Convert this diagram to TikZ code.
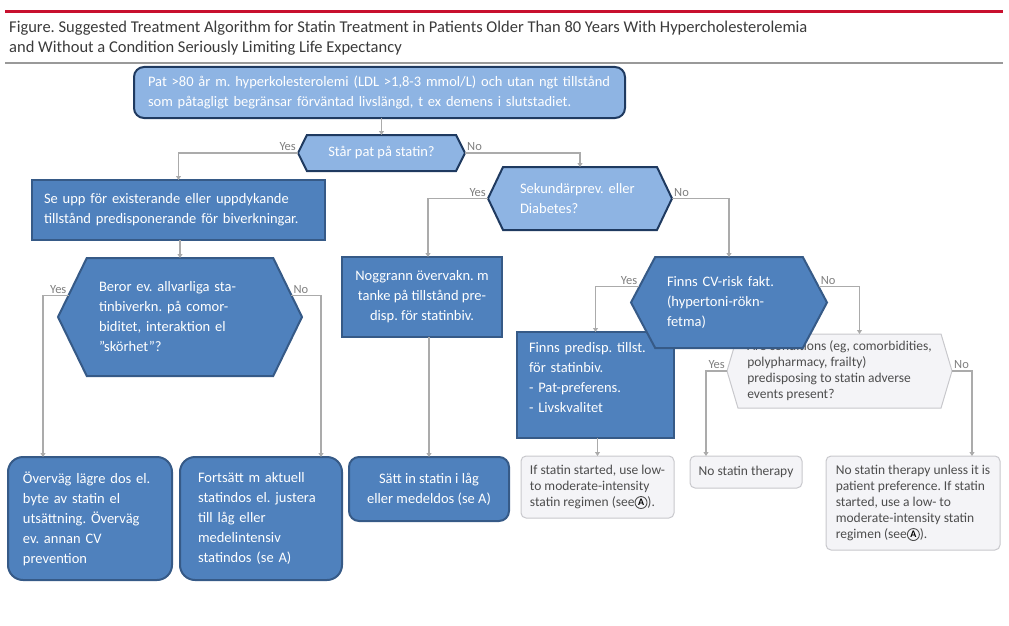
\documentclass[tikz,border=0pt]{standalone}
\usepackage{fontspec}
\setmainfont{Carlito}
\usetikzlibrary{shapes.symbols,arrows.meta}

\definecolor{lightfill}{HTML}{8EB4E3}
\definecolor{darkedge}{HTML}{1F3A60}
\definecolor{midfill}{HTML}{4F81BD}
\definecolor{midedge}{HTML}{365A87}
\definecolor{grayfill}{HTML}{F4F4F7}
\definecolor{grayedge}{HTML}{C8C8CC}
\definecolor{linegray}{HTML}{ABABAB}
\definecolor{labelgray}{HTML}{7F7F7F}
\definecolor{textgray}{HTML}{4D4D4D}
\definecolor{titlegray}{HTML}{3A3A3A}
\definecolor{jamared}{HTML}{C8102E}

% circled A of the JAMA boxes
\newcommand\circA{\tikz[baseline=-0.6ex]{\draw[textgray, line width=0.9pt] (0,0) circle (6pt);
  \pgftext{\fontsize{10}{10}\selectfont\bfseries A}}}

\tikzset{
  sv/.style={font=\fontsize{14.5}{20}\selectfont, text=white, inner sep=0pt, outer sep=0pt},
  lightbox/.style={sv, fill=lightfill, draw=darkedge, line width=2pt},
  midbox/.style={sv, fill=midfill, draw=midedge, line width=2pt},
  hexa/.style={signal, signal to=west and east, signal pointer angle=#1},
  graybox/.style={font=\fontsize{13.5}{16}\selectfont, text=textgray, fill=grayfill,
    draw=grayedge, line width=1pt, inner sep=0pt, outer sep=0pt, align=left},
  conn/.style={draw=linegray, line width=1.4pt, ->},
  lbl/.style={font=\fontsize{12.5}{14}\selectfont, text=labelgray, inner sep=1.5pt},
}

\begin{document}
\frenchspacing
\begin{tikzpicture}[x=1pt,y=-1pt,>={Triangle[width=5pt,length=4pt]}]
  \useasboundingbox (0,0) rectangle (1009,626);

  % heading
  \draw[jamared, line width=3pt] (5,12) -- (1003,12);
  \node[anchor=north west, inner sep=0pt, align=left, text=titlegray,
    font=\fontsize{16.5}{20}\selectfont] (title) at (9,21)
    {Figure. Suggested Treatment Algorithm for Statin Treatment in Patients Older Than 80 Years With Hypercholesterolemia\\
     and Without a Condition Seriously Limiting Life Expectancy};
  \draw[gray!80, line width=1.3pt] (5,63) -- (1003,63);

  % first questions
  \node[lightbox, rounded corners=10pt, align=left, text width=463pt, minimum width=491pt, minimum height=51pt] (top) at (379.5,92.5)
    {Pat >80 år m. hyperkolesterolemi (LDL >1,8-3 mmol/L) och utan ngt tillstånd\\
     som påtagligt begränsar förväntad livslängd, t ex demens i slutstadiet.};
  \node[lightbox, hexa=127, minimum width=167pt, minimum height=36pt] (star) at (381.5,153) {Står pat på statin?};

  \node[midbox, align=left, text width=269pt, minimum width=293pt, minimum height=60pt] (seupp) at (178.5,210)
    {Se upp för existerande eller uppdykande\\ tillstånd predisponerande för biverkningar.};
  \node[midbox, hexa=128, align=left, text width=162pt, minimum width=244pt, minimum height=118pt] (beror) at (180,317)
    {Beror ev. allvarliga sta-\\ tinbiverkn. på comor-\\ biditet, interaktion el\\ ”skörhet”?};

  \node[lightbox, hexa=129, align=left, text width=120pt, minimum width=184pt, minimum height=63pt] (sekund) at (580,198.5)
    {Sekundärprev. eller\\ Diabetes?};
  \node[midbox, align=center, minimum width=160pt, minimum height=80pt] (noggrann) at (422,297)
    {Noggrann övervakn. m\\ tanke på tillstånd pre-\\ disp. för statinbiv.};

  % risk factors
  \node[midbox, align=left, text width=133pt, text depth=75pt, minimum width=157pt, minimum height=106pt] (predisp) at (595.5,385)
    {Finns predisp. tillst.\\ för statinbiv.\\ - Pat-preferens.\\ - Livskvalitet};
  \node[graybox, signal, signal to=west and east, signal pointer angle=147,
    minimum width=225pt, minimum height=74pt] (cond) at (839.5,371)
    {Are conditions (eg, comorbidities,\\ polypharmacy, frailty)\\ predisposing to statin adverse\\ events present?};
  \node[midbox, hexa=124, align=left, text width=124pt, minimum width=196pt, minimum height=91pt] (finnscv) at (729,302.5)
    {Finns CV-risk fakt.\\ (hypertoni-rökn-\\ fetma)};

  % outcomes
  \node[midbox, rounded corners=15pt, align=left, text width=134pt, minimum width=164pt, minimum height=123pt] (lower) at (90,518.5)
    {Överväg lägre dos el.\\ byte av statin el\\ utsättning. Överväg\\ ev. annan CV\\ prevention};
  \node[midbox, rounded corners=15pt, align=left, text width=126pt, minimum width=162pt, minimum height=123pt] (keep) at (261,518.5)
    {Fortsätt m aktuell\\ statindos el. justera\\ till låg eller\\ medelintensiv\\ statindos (se A)};
  \node[midbox, rounded corners=10pt, align=center, minimum width=160pt, minimum height=64pt] (start) at (429,489)
    {Sätt in statin i låg\\ eller medeldos (se A)};
  \node[graybox, rounded corners=5pt, minimum width=153pt, minimum height=62pt] (ifstart) at (597.5,487)
    {If statin started, use low-\\ to moderate-intensity\\ statin regimen (see\circA).};
  \node[graybox, rounded corners=5pt, minimum width=112pt, minimum height=32pt] (nostatin) at (746,472)
    {No statin therapy};
  \node[graybox, rounded corners=5pt, minimum width=174pt, minimum height=94pt] (unless) at (913,503)
    {No statin therapy unless it is\\ patient preference. If statin\\ started, use a low- to\\ moderate-intensity statin\\ regimen (see\circA).};

  % connectors
  \draw[conn] (top.south -| star.north) -- (star.north);
  \draw[conn] (star.west) node[lbl, above left] {Yes} -| (seupp.north);
  \draw[conn] (star.east) node[lbl, above right] {No} -| (sekund.north);
  \draw[conn] (seupp.south -| beror.north) -- (beror.north);
  \draw[conn] (beror.169) node[lbl, above left] {Yes} -| ([xshift=35pt]lower.north west);
  \draw[conn] (beror.11) node[lbl, above right] {No} -| ([xshift=-21pt]keep.north east);
  \draw[conn] (sekund.west) node[lbl, above left] {Yes} -| ([xshift=6pt]noggrann.north);
  \draw[conn] (sekund.east) node[lbl, above right] {No} -| (finnscv.north);
  \draw[conn] (noggrann.south -| start.north) -- (start.north);
  \draw[conn] (finnscv.170) node[lbl, above left] {Yes} -| (predisp.north);
  \draw[conn] (finnscv.10) node[lbl, above right] {No} -| ([xshift=20pt]cond.north);
  \draw[conn] (predisp.south -| ifstart.north) -- (ifstart.north);
  \draw[conn] (cond.west) node[lbl, above left] {Yes} -| ([xshift=-40pt]nostatin.north);
  \draw[conn] (cond.east) node[lbl, above right] {No} -| ([xshift=59pt]unless.north);
\end{tikzpicture}
\end{document}
